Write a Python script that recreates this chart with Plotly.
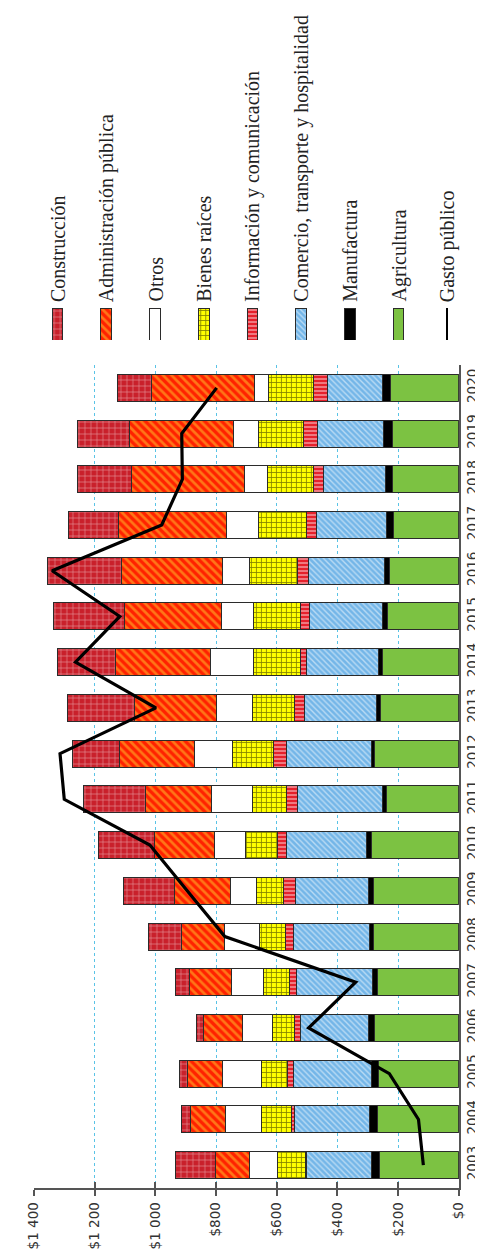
import plotly.graph_objects as go

W, H = 483, 1249

years = ["2003", "2004", "2005", "2006", "2007", "2008", "2009", "2010", "2011",
         "2012", "2013", "2014", "2015", "2016", "2017", "2018", "2019", "2020"]

agricultura = [261, 268, 266, 277, 269, 280, 282, 289, 239, 277, 257, 250, 234, 227, 216, 218, 220, 225]
manufactura = [26, 25, 21, 21, 15, 16, 16, 14, 11, 12, 14, 14, 16, 18, 23, 23, 28, 28]
comercio = [216, 250, 258, 225, 252, 249, 239, 265, 282, 280, 238, 239, 243, 252, 229, 204, 218, 181]
informacion = [2, 8, 19, 17, 23, 27, 40, 30, 37, 43, 34, 18, 30, 35, 34, 34, 45, 45]
bienes = [93, 98, 87, 75, 85, 85, 90, 104, 112, 135, 138, 155, 153, 157, 158, 151, 149, 149]
otros = [93, 119, 128, 98, 106, 116, 86, 104, 135, 125, 117, 143, 106, 90, 106, 77, 83, 44]
administracion = [110, 115, 115, 127, 138, 142, 185, 196, 218, 245, 271, 312, 321, 333, 354, 373, 342, 339]
construccion = [133, 32, 26, 25, 46, 106, 168, 186, 202, 157, 221, 192, 232, 242, 167, 175, 170, 115]
gasto_publico = [117, 133, 229, 495, 340, 771, 895, 1018, 1300, 1314, 998, 1263, 1117, 1340, 979, 911, 913, 798]

tick_vals = [0, 200, 400, 600, 800, 1000, 1200, 1400]
tick_text = ["$0", "$200", "$400", "$600", "$800", "$1 000", "$1 200", "$1 400"]

legend_names = ["Construcción", "Administración pública", "Otros", "Bienes raíces",
                "Información y comunicación", "Comercio, transporte y hospitalidad",
                "Manufactura", "Agricultura", "Gasto público"]

OUT = "#2b2b2b"

styles = {
    "Agricultura": dict(color="#7cc242"),
    "Manufactura": dict(color="#000000"),
    "Comercio, transporte y hospitalidad": dict(
        color="#74b6e8", pattern=dict(shape="\\", fgcolor="#ffffff", size=4, solidity=0.35)),
    "Información y comunicación": dict(
        color="#e5202b", pattern=dict(shape="-", fgcolor="#ffffff", size=4, solidity=0.4)),
    "Bienes raíces": dict(
        color="#ffff00", pattern=dict(shape="+", fgcolor="#000000", size=5, solidity=0.3)),
    "Otros": dict(color="#ffffff"),
    "Administración pública": dict(
        color="#ff2200", pattern=dict(shape="\\", fgcolor="#ffc92e", size=6, solidity=0.45)),
    "Construcción": dict(
        color="#c9202b", pattern=dict(shape="+", fgcolor="#ffffff", size=6, solidity=0.2)),
}

stack = [("Agricultura", agricultura), ("Manufactura", manufactura),
         ("Comercio, transporte y hospitalidad", comercio),
         ("Información y comunicación", informacion), ("Bienes raíces", bienes),
         ("Otros", otros), ("Administración pública", administracion),
         ("Construcción", construccion)]

fig = go.Figure()
for name, vals in stack:
    st = styles[name]
    marker = dict(color=st["color"], line=dict(color=OUT, width=1))
    if "pattern" in st:
        marker["pattern"] = st["pattern"]
    fig.add_trace(go.Bar(x=vals, y=years, orientation="h", name=name, marker=marker,
                         showlegend=False, xaxis="x", yaxis="y"))

fig.add_trace(go.Scatter(x=gasto_publico, y=years, mode="lines", name="Gasto público",
                         line=dict(color="#000000", width=3.2), showlegend=False,
                         xaxis="x", yaxis="y"))

# overlay axis for inner half of crossing tick marks
fig.add_trace(go.Scatter(x=[0, 1400], y=[0, 0], mode="markers", marker=dict(opacity=0),
                         hoverinfo="skip", showlegend=False, xaxis="x2", yaxis="y2"))

# legend swatches (drawn as small bars on their own axes)
for name in legend_names:
    if name == "Gasto público":
        fig.add_trace(go.Bar(x=[name], y=[1], width=0.045, marker=dict(color="#000000", line=dict(width=0)),
                             showlegend=False, xaxis="x3", yaxis="y3", hoverinfo="skip"))
    else:
        st = styles[name]
        marker = dict(color=st["color"], line=dict(color=OUT, width=1))
        if "pattern" in st:
            marker["pattern"] = st["pattern"]
        fig.add_trace(go.Bar(x=[name], y=[1], width=0.22, marker=marker,
                             showlegend=False, xaxis="x3", yaxis="y3", hoverinfo="skip"))

x_dom = [17.5 / W, 457 / W]
y_dom = [1 - 1180 / H, 1 - 357 / H]

tick_font = dict(family="DejaVu Sans", size=13.5, color="#333333")

annotations = []
for name in legend_names:
    annotations.append(dict(
        x=name, xref="x3", y=1 - 296 / H, yref="paper", text=name, textangle=-90,
        showarrow=False, xanchor="center", yanchor="bottom",
        font=dict(family="Liberation Serif", size=20, color="#222222")))

fig.update_layout(
    width=W, height=H,
    margin=dict(l=0, r=0, t=0, b=0),
    paper_bgcolor="white", plot_bgcolor="white",
    barmode="stack", bargap=0.41,
    showlegend=False,
    annotations=annotations,
    xaxis=dict(domain=x_dom, range=[1400, 0], tickvals=tick_vals, ticktext=tick_text,
               tickangle=-90, tickfont=tick_font, showgrid=True, gridcolor="#59c3e6",
               griddash="3px,3px", gridwidth=1, zeroline=False, showline=True,
               linecolor="#555555", linewidth=1.5, ticks="outside", ticklen=6,
               tickcolor="#555555", tickwidth=1.5, anchor="y", ticklabelstandoff=1),
    yaxis=dict(domain=y_dom, range=[-0.5, 17.5], type="category",
               categoryorder="array", categoryarray=years, side="right",
               tickangle=-90, tickfont=tick_font, showline=True, linecolor="#555555",
               linewidth=1.5, ticks="", showgrid=False, zeroline=False, anchor="x",
               showticklabels=True),
    xaxis2=dict(overlaying="x", range=[1400, 0], tickvals=tick_vals, ticks="inside",
                ticklen=6, tickcolor="#555555", tickwidth=1.5, showticklabels=False,
                showgrid=False, zeroline=False, showline=False, anchor="y2", side="bottom"),
    yaxis2=dict(domain=y_dom, overlaying="y", range=[0, 1], visible=False, anchor="x2"),
    xaxis3=dict(domain=[16.8 / W, 470.2 / W], type="category", categoryorder="array",
                categoryarray=legend_names, range=[-0.5, 8.5], visible=False, anchor="y3"),
    yaxis3=dict(domain=[1 - 332 / H, 1 - 300 / H], range=[0, 1], visible=False, anchor="x3"),
)

fig.write_html("out.html")
